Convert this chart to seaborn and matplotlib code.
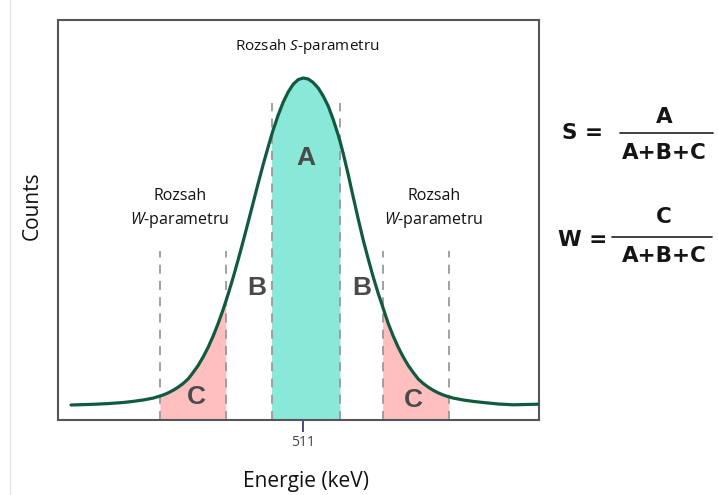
import numpy as np
import pandas as pd
import matplotlib
matplotlib.use("Agg")
import matplotlib.pyplot as plt
import seaborn as sns

# ---- data ----
energy = [508.100, 508.375, 508.5625, 508.750, 508.875, 509.000, 509.125, 509.209,
          509.250, 509.3125, 509.375, 509.4375, 509.500, 509.5625, 509.625, 509.6875,
          509.750, 509.8125, 509.875, 509.9375, 510.000, 510.034, 510.0625, 510.125,
          510.1875, 510.250, 510.3125, 510.375, 510.4375, 510.500, 510.5625, 510.605,
          510.625, 510.6875, 510.750, 510.8125, 510.875, 510.9375, 511.000,
          511.0625, 511.125, 511.1875, 511.250, 511.3125, 511.375, 511.4375, 511.459,
          511.500, 511.5625, 511.625, 511.6875, 511.750, 511.8125, 511.875, 511.9375,
          511.9925, 512.000, 512.0625, 512.125, 512.1875, 512.250, 512.3125, 512.375,
          512.4375, 512.500, 512.5625, 512.625, 512.6875, 512.750, 512.821, 512.875,
          513.000, 513.125, 513.250, 513.4375, 513.625, 513.934]
counts = [15.0, 15.7, 16.4, 17.5, 18.6, 20.0, 21.9, 23.9,
          25.0, 27.1, 29.7, 32.8, 36.5, 41.0, 47.5, 54.5,
          63.0, 72.7, 83.9, 96.5, 110.5, 118.7, 125.9, 142.5,
          160.2, 178.7, 197.8, 217.2, 236.6, 255.4, 273.1, 284.8,
          290.0, 304.9, 317.8, 328.0, 335.7, 340.4, 342.0,
          341.0, 337.5, 332.0, 324.0, 314.0, 300.5, 285.0, 279.0,
          266.5, 245.5, 223.0, 201.0, 180.0, 161.0, 143.0, 126.5,
          113.5, 111.5, 96.5, 83.9, 72.7, 63.0, 54.5, 47.5,
          41.0, 36.5, 32.8, 29.7, 27.1, 25.0, 23.1, 21.9,
          20.0, 18.6, 17.5, 16.0, 15.2, 15.8]

s_window = [510.605, 511.459]
w_left = [509.209, 510.034]
w_right = [511.9925, 512.821]
tick_values = [511]
tick_labels = ["511"]

df = pd.DataFrame({"energy": energy, "counts": counts})

sns.set_theme(style="white")
plt.rcParams["font.family"] = ["Open Sans", "DejaVu Sans"]
plt.rcParams["mathtext.fontset"] = "custom"
plt.rcParams["mathtext.rm"] = "Open Sans"
plt.rcParams["mathtext.it"] = "Open Sans:italic"

fig = plt.figure(figsize=(7.18, 4.95), dpi=100)
ax = fig.add_axes([58 / 718, 1 - 420 / 495, (539 - 58) / 718, (420 - 20) / 495])

# faint left border of the original screenshot
fig.add_artist(plt.Line2D([10 / 718, 10 / 718], [0, 1], color="#e4e4e4", linewidth=1))

e = np.array(energy)
c = np.array(counts)

def fill(lo, hi, color):
    m = (e >= lo - 1e-9) & (e <= hi + 1e-9)
    ax.fill_between(e[m], 0, c[m], color=color, linewidth=0, zorder=1)

fill(*s_window, "#8AE8D9")
fill(*w_left, "#FFBFBF")
fill(*w_right, "#FFBFBF")

dash_kw = dict(color="#9a9a9a", linestyle=(0, (5, 4)), linewidth=1.3, zorder=2)
for xv in s_window:
    ax.plot([xv, xv], [0, 317], **dash_kw)
for xv in w_left + w_right:
    ax.plot([xv, xv], [0, 169], **dash_kw)

sns.lineplot(data=df, x="energy", y="counts", ax=ax, color="#115a3e",
             linewidth=2.3, sort=False, zorder=3)

ax.set_xlim(507.937, 513.946)
ax.set_ylim(0, 400)

ax.set_xticks(tick_values)
ax.set_xticklabels(tick_labels, fontsize=10, color="#444444")
ax.set_yticks([])
ax.tick_params(axis="x", direction="inout", length=17, width=1.3,
               color="#3a3a80", pad=2, bottom=True)
for sp in ax.spines.values():
    sp.set_color("#555555")
    sp.set_linewidth(1.5)

ax.set_xlabel("Energie (keV)", fontsize=15, color="#111111")
ax.xaxis.set_label_coords(0.516, -0.128)
ax.set_ylabel("Counts", fontsize=15, color="#111111")
ax.yaxis.set_label_coords(-0.032, 0.535)

ax.text(511.046, 373, "Rozsah $S$-parametru", ha="center", va="center",
        fontsize=11, color="#111111")
ax.text(509.459, 211, "Rozsah\n$W$-parametru", ha="center", va="center",
        fontsize=11.5, color="#111111", linespacing=1.45)
ax.text(512.634, 211, "Rozsah\n$W$-parametru", ha="center", va="center",
        fontsize=11.5, color="#111111", linespacing=1.45)

lab_kw = dict(ha="center", va="center", fontsize=19, fontweight="bold",
              color="#4a4a4a", family="Liberation Sans", zorder=4)
ax.text(511.03, 262, "A", **lab_kw)
ax.text(510.418, 132, "B", **lab_kw)
ax.text(511.73, 132, "B", **lab_kw)
ax.text(509.667, 23, "C", **lab_kw)
ax.text(512.375, 20, "C", **lab_kw)

fk = dict(ha="center", va="center", fontsize=15.5, fontweight="bold",
          color="#151515", family="DejaVu Sans")
def fx(px):
    return px / 718
def fy(py):
    return 1 - py / 495

fig.text(fx(583), fy(133), "S =", **fk)
fig.text(fx(664), fy(117), "A", **fk)
fig.text(fx(664), fy(153), "A+B+C", **fk)
fig.add_artist(plt.Line2D([fx(620), fx(713)], [fy(132.5), fy(132.5)],
                          color="#333333", linewidth=1.3))

fig.text(fx(583), fy(240), "W =", **fk)
fig.text(fx(664), fy(217), "C", **fk)
fig.text(fx(664), fy(256), "A+B+C", **fk)
fig.add_artist(plt.Line2D([fx(612), fx(712)], [fy(237), fy(237)],
                          color="#333333", linewidth=1.3))

fig.savefig("out.png", dpi=100)
